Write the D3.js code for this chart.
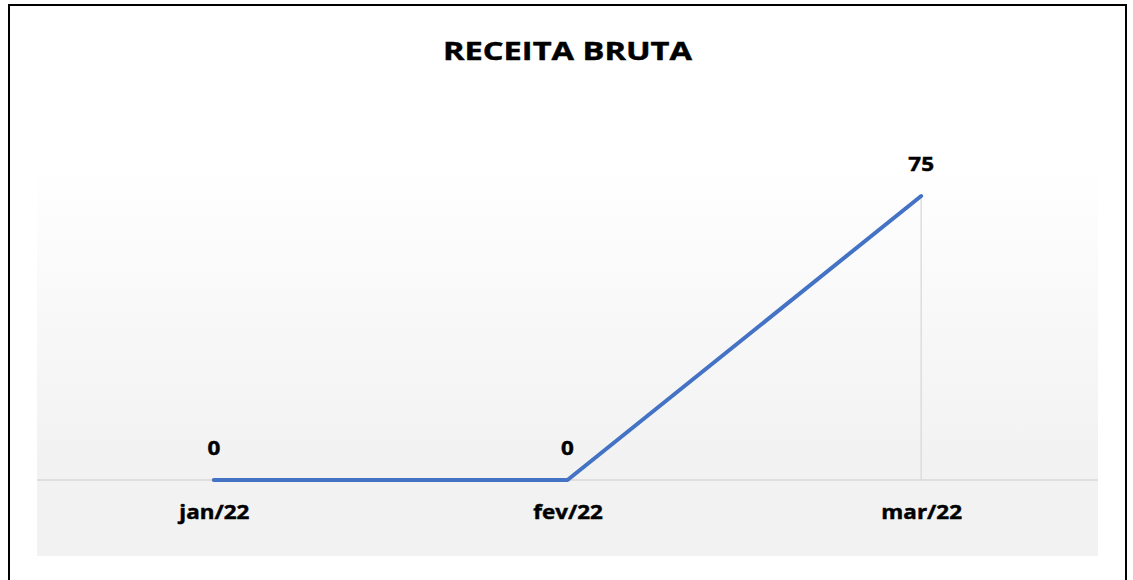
<!DOCTYPE html>
<html>
<head>
<meta charset="utf-8">
<script src="https://cdn.jsdelivr.net/npm/d3@7"></script>
<style>
  html, body { margin: 0; padding: 0; background: #fff; }
  svg { display: block; }
  text { font-family: "Open Sans", "Liberation Sans", sans-serif; font-weight: 700; fill: #000; stroke: #000; stroke-width: 0.45px; }
</style>
</head>
<body>
<svg id="chart" width="1133" height="580"></svg>
<script>
const title = "RECEITA BRUTA";
const categories = ["jan/22", "fev/22", "mar/22"];
const values = [0, 0, 75];
const valueLabels = ["0", "0", "75"];

const W = 1133, H = 580;
const plot = { left: 37, right: 1098, top: 163, bottom: 556 };
const axisY = 480;
const TITLE_SX = 1.28, LABEL_SX = 1.15;

const svg = d3.select("#chart");

// outer border (bottom edge lies outside the picture)
svg.append("rect")
  .attr("x", 9).attr("y", 5)
  .attr("width", 1117).attr("height", 620)
  .attr("fill", "none").attr("stroke", "#000").attr("stroke-width", 2);

// plot background gradient
const defs = svg.append("defs");
const grad = defs.append("linearGradient").attr("id", "bg")
  .attr("x1", 0).attr("y1", 0).attr("x2", 0).attr("y2", 1);
grad.append("stop").attr("offset", "0%").attr("stop-color", "#ffffff");
grad.append("stop").attr("offset", "75%").attr("stop-color", "#f2f2f2");
grad.append("stop").attr("offset", "100%").attr("stop-color", "#f2f2f2");

svg.append("rect")
  .attr("x", plot.left).attr("y", plot.top)
  .attr("width", plot.right - plot.left).attr("height", plot.bottom - plot.top)
  .attr("fill", "url(#bg)");

const x = d3.scalePoint().domain(categories).range([plot.left, plot.right]).padding(0.5);
const y = d3.scaleLinear().domain([0, 75]).range([axisY, 196]);

// title
svg.append("text")
  .attr("transform", `translate(${W / 2 + 1},59.5) scale(${TITLE_SX},1)`)
  .attr("text-anchor", "middle")
  .style("font-size", "25.5px")
  .text(title);

// drop lines
svg.append("g").selectAll("line")
  .data(categories.filter((c, i) => values[i] !== 0))
  .join("line")
  .attr("x1", c => x(c)).attr("x2", c => x(c))
  .attr("y1", c => y(values[categories.indexOf(c)])).attr("y2", y(0))
  .attr("stroke", "#d9d9d9").attr("stroke-width", 1.3);

// x axis
const xAxis = d3.axisBottom(x).tickSize(0).tickPadding(0);
const gx = svg.append("g").attr("transform", `translate(0,${y(0)})`).call(xAxis);
gx.select(".domain").attr("d", `M${plot.left},0H${plot.right}`)
  .attr("stroke", "#d9d9d9").attr("stroke-width", 1.5);
gx.selectAll(".tick text")
  .attr("y", null).attr("dy", null)
  .attr("transform", `translate(0,39) scale(${LABEL_SX},1)`)
  .attr("text-anchor", "middle")
  .style("font-size", "19.5px")
  .style("font-family", "'Open Sans', sans-serif")
  .style("font-weight", "700")
  .attr("fill", "#000");

// line
const line = d3.line().x((d, i) => x(categories[i])).y(d => y(d));
svg.append("path")
  .datum(values)
  .attr("d", line)
  .attr("fill", "none")
  .attr("stroke", "#4472C4")
  .attr("stroke-width", 4)
  .attr("stroke-linecap", "round")
  .attr("stroke-linejoin", "round");

// data labels
svg.append("g").selectAll("text")
  .data(values)
  .join("text")
  .attr("transform", (d, i) => `translate(${x(categories[i])},${y(d) - 25}) scale(${LABEL_SX},1)`)
  .attr("text-anchor", "middle")
  .style("font-size", "19.5px")
  .text((d, i) => valueLabels[i]);
</script>
</body>
</html>
